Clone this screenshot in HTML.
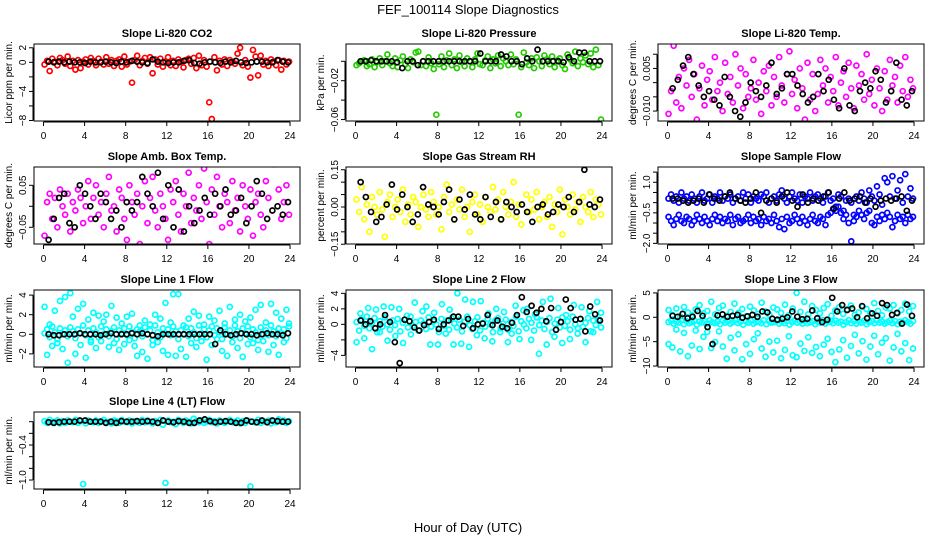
<!DOCTYPE html>
<html><head><meta charset="utf-8"><style>
body{margin:0;background:#fff;}
svg{display:block;font-family:"Liberation Sans",Arial,sans-serif;}
</style></head><body>
<svg id="c" width="936" height="540" viewBox="0 0 936 540">
<text x="468" y="14" font-size="13" text-anchor="middle">FEF_100114  Slope Diagnostics</text>
<text x="468" y="532" font-size="13" text-anchor="middle">Hour of Day (UTC)</text>
</svg>
<script>
// ---- data (colored = all samples, black = summary samples) ----
const co2Col=[-0.3,0.2,-1.2,0.5,0.1,-0.4,0.6,0.3,-0.2,0.8,-0.5,0.2,-1.0,0.3,-0.8,0.1,0.4,-0.3,0.6,0.2,-0.4,0.5,0.1,-0.3,0.7,-0.2,0.3,-0.5,0.2,0.4,-0.6,0.8,-0.3,0.1,-2.8,0.3,0.9,-0.4,0.2,0.6,-0.2,0.7,-1.5,0.4,-0.3,0.5,-0.6,0.1,0.7,-0.4,0.2,-0.5,0.4,0.1,-0.7,0.3,0.5,-0.2,0.6,-0.8,0.9,-0.4,0.3,-0.6,-5.5,-7.8,0.7,-1.1,0.2,-0.3,0.4,-0.5,0.3,0.1,-0.2,1.2,2.0,-0.4,0.3,-0.6,-2.1,1.7,0.8,-1.8,0.9,-0.3,0.2,-0.5,0.4,0.1,-0.4,0.3,-1.0,0.2,-0.3,0.1];
const co2Blk=[0.1,0,0.1,0,0.1,0,0,-0.1,0.1,0,0,0.1,0,-0.1,0.1,0,0.2,0.1,0,-0.1,0.4,0.1,0,-0.1,0,0,0.2,0.3,-0.1,-0.2,0,0.1,0,-0.1,0.1,0,0.2,0,-0.1,0,0.1,0.1,0,0,0.3,0.1,0];
const presCol=[-4,-2,0,1,-5,-3,2,-6,-1,3,-4,0,7,-2,-5,3,-6,1,5,-3,-7,2,-1,9,10,-4,0,-5,4,-2,-8,-55,-3,5,-6,1,8,-4,2,-7,6,-1,-5,3,0,-6,2,8,-3,-4,1,5,-7,2,-2,6,-5,3,0,-4,7,-3,2,-55,-6,9,-1,-4,3,-7,4,0,-5,6,2,-3,5,-6,1,3,-4,-8,7,2,-2,10,-5,3,-1,6,-3,8,-6,12,-4,-60];
const presBlk=[0,0,1,0,0,0,0,-1,-7,0,0,-4,0,0,0,0,0,0,0,0,0,0,0,8,0,0,0,7,5,0,0,-3,3,0,12,0,0,0,0,-1,4,0,9,9,0,0,0];
const tempCol=[-11,-3,13,-7,2,-9,5,-1,8,-5,3,-13,-2,6,-8,1,4,-6,9,-3,0,-10,7,-4,2,-7,10,-1,5,-9,3,-5,-2,8,-6,0,-11,4,-3,6,-8,2,-5,9,-1,-7,3,11,-4,1,-9,5,-2,-13,7,-6,3,-10,-4,8,-1,5,-7,2,-3,9,-8,0,4,-5,7,-2,-9,6,-1,3,-6,10,-4,1,-8,5,-2,-10,4,-6,8,-1,2,-7,6,-3,9,-5,1,-2];
const tempBlk=[-2,1,6,9,3,-1,-5,-3,-6,-8,2,-5,-10,-12,-7,0,-3,-5,-1,7,-4,-2,3,3,-1,-4,-7,-5,3,-3,1,-6,-9,5,-8,-10,-3,0,-2,4,1,-7,-3,7,-6,-8,-3];
const ambCol=[-7,1,3,-3,2,-5,4,0,-2,3,-6,1,-1,4,2,-4,0,6,-3,2,5,-2,1,-5,3,7,-1,0,-6,4,2,-3,-8,5,1,-2,3,-9,0,6,-4,2,7,-1,-5,3,0,-3,-8,4,1,6,-2,-6,3,0,8,-4,2,-1,5,-3,9,1,-9,4,-2,7,0,-5,3,1,-4,6,-1,2,-6,5,0,-3,4,-7,1,3,-2,-5,6,2,-11,10,-11,4,-3,1,5,-2];
const ambBlk=[-8,-3,2,3,-4,-5,5,3,0,-3,3,1,-3,-1,-5,1,-1,1,7,3,0,8,-3,5,-5,4,-6,0,-4,-1,2,-2,3,0,4,-2,-1,2,-4,0,6,3,-3,-1,0,-2,1];
const rhCol=[3,-2,8,-5,1,-10,4,0,-3,6,-1,-12,2,5,-4,0,3,-2,7,-6,1,-3,4,2,-8,0,5,-1,-4,6,2,-3,0,-9,4,9,-2,1,-5,3,-1,7,-4,0,-10,2,5,-3,1,-6,4,0,-2,8,-1,3,-5,6,0,-3,2,10,-4,1,-7,-16,5,-2,3,-1,6,-5,0,2,-4,4,-8,1,-2,7,-11,3,0,-3,5,-1,2,-6,4,0,-2,6,-4,3,1,-3];
const rhBlk=[10,4,-2,-6,-4,1,9,-1,5,0,-6,-3,8,1,0,-3,2,7,-5,3,-1,5,-3,-5,4,-4,2,-5,2,0,-2,1,-2,-6,0,1,-3,-2,1,0,4,-2,2,15,1,0,3];
const sfUpper=[0.2,0.4,0.1,0.3,0.0,0.5,0.2,0.3,0.1,0.4,0.2,0.0,0.3,0.5,0.1,0.2,0.4,0.0,0.3,0.2,0.5,0.1,0.3,0.2,0.4,0.0,0.2,0.3,0.1,0.5,0.2,0.4,0.0,0.3,0.2,0.1,0.4,0.3,0.5,0.0,0.2,0.3,0.1,0.4,0.6,0.2,0.0,0.3,0.5,0.2,0.1,0.4,0.0,0.3,0.2,0.5,0.1,0.3,0.4,0.2,0.0,0.3,0.5,0.1,0.2,-0.2,0.4,0.3,-0.4,0.1,0.2,0.0,-0.6,0.3,0.1,0.5,0.2,0.0,0.6,0.3,0.1,0.8,0.4,-0.1,1.2,1.0,0.3,1.3,0.2,0.6,1.1,0.0,1.4,0.3,0.7,0.2];
const sfLower=[-0.7,-0.9,-1.1,-0.8,-0.6,-0.9,-1.0,-0.7,-0.8,-1.1,-0.9,-0.6,-0.8,-1.0,-0.7,-0.9,-1.1,-0.8,-0.6,-0.9,-0.7,-1.0,-0.8,-0.9,-0.6,-1.1,-0.8,-0.7,-1.0,-0.9,-0.8,-0.6,-1.0,-0.7,-0.9,-0.8,-1.1,-0.7,-0.9,-0.8,-1.0,-0.6,-0.9,-1.2,-0.8,-1.3,-0.7,-1.0,-0.9,-0.6,-0.8,-1.0,-0.7,-0.9,-1.1,-0.8,-0.6,-0.9,-1.0,-0.7,-0.8,-1.1,-0.6,-0.5,-0.3,-0.4,-0.2,-0.5,-0.8,-0.6,-1.0,-1.9,-0.9,-0.7,-0.4,-0.6,-0.8,-0.5,-0.4,-1.0,-1.1,-0.7,-0.9,-0.6,-0.8,-0.5,-0.7,-1.2,-0.9,-0.6,-0.8,-0.7,-1.0,-0.6,-0.8,-0.7];
const sfBlk=[0.2,0.2,0.1,0.0,0.1,0.2,0.0,0.4,0.2,0.1,0.3,0.5,0.2,0.1,0.0,0.2,0.5,-0.5,0.1,0.2,0.0,0.3,0.5,0.1,-0.2,0.4,0.0,0.2,0.1,0.3,0.5,-0.3,0.2,0.5,0.1,0.2,0.3,0.0,0.2,-0.2,0.1,0.2,0.1,0.2,0.3,-0.4,0.1];
const l1Band=[0.1,0.5,-0.3,0.8,0.2,-0.5,0.6,0.0,0.4,-0.2,0.7,0.3,-0.4,0.5,0.1,0.9,-0.1,0.4,-0.6,0.6,0.2,-0.3,0.8,0.0,0.5,-0.2,0.3,0.7,-0.5,0.4,0.1,0.6,-0.1,0.8,0.2,-0.4,0.5,0.3,-0.2,0.7,0.0,0.4,-0.6,0.9,0.2,-0.3,0.6,0.1,0.5,-0.1,0.8,0.3,-0.5,0.4,0.0,0.7,-0.2,0.6,0.2,-0.4,0.9,0.1,0.5,-0.3,0.4,0.8,-0.1,0.6,0.2,-0.5,0.7,0.0,0.4,-0.2,0.9,0.3,-0.4,0.6,0.1,0.8,-0.3,0.5,0.2,-0.6,0.7,0.0,0.4,-0.1,0.9,0.3,-0.2,0.6,0.1,0.5,-0.4,0.8];
const l1Scatter=[2.8,-2.1,1.0,-1.2,2.4,-0.9,3.4,-1.5,3.8,-2.9,4.2,1.8,-2.0,2.6,-1.1,3.1,-2.4,1.5,-0.8,2.2,-1.4,1.9,-0.7,1.3,2.0,-1.3,2.9,-0.9,1.7,-1.6,1.1,-1.0,1.8,-0.6,2.1,-1.2,-2.2,0.9,-1.8,1.4,-2.5,1.0,-1.1,2.0,-0.8,1.6,-1.7,3.2,-2.1,1.2,4.1,-2.2,4.1,-1.5,0.9,-2.3,1.6,-0.9,2.3,-1.3,1.9,-0.7,1.0,-2.6,1.8,-1.1,1.4,-0.5,2.4,-1.7,1.1,-2.2,2.8,-0.8,1.5,-1.4,2.0,-2.3,1.3,-1.0,1.7,-0.9,2.5,-1.6,3.0,-0.7,1.2,-1.8,3.1,-1.1,2.2,-2.1,1.6,-0.8,2.5,1.1];
const l1Blk=[0,-0.1,-0.1,0,0,0,0.1,0,0,0,-0.1,0,0.1,0,0,0,0.1,0,0.1,0,-0.1,-0.2,0,0,0,0,0,0,0,0,0,0,-1.0,0.4,0,-0.1,0,0.1,0,0,-0.1,0,0.1,0,0,-0.1,0.1];
const l2Band=[0.3,-0.8,0.6,-0.2,1.0,-0.5,0.2,0.8,-1.0,0.4,-0.3,0.9,0.0,-0.7,0.5,-0.1,0.7,-0.9,0.2,0.6,-0.4,1.0,-0.2,0.3,-0.8,0.5,0.1,-0.6,0.9,-0.3,0.4,0.0,-1.0,0.7,-0.2,0.5,-0.7,0.8,0.1,-0.4,0.6,-0.9,0.3,1.0,-0.1,-0.6,0.4,0.9,-0.8,0.2,-0.3,0.7,0.0,-1.0,0.5,0.8,-0.5,0.1,0.6,-0.7,0.3,-0.2,1.0,-0.9,0.4,0.0,-0.5,0.7,0.2,-0.8,0.9,-0.1,0.5,-0.6,0.3,0.8,-1.0,0.1,0.6,-0.4,0.9,-0.2,0.4,-0.7,1.0,0.0,-0.5,0.7,-0.3,0.2,0.8,-0.9,0.5,-0.1,0.6,-0.4];
const l2Scatter=[-2.3,1.4,-1.8,2.1,-3.2,1.9,-1.0,2.3,-2.1,2.2,-1.5,2.0,-2.4,1.1,-1.3,2.8,-0.8,1.7,2.3,-2.6,1.5,-2.6,2.6,-1.2,1.9,-2.6,4.0,-2.5,3.2,-2.9,2.9,-1.4,3.0,-1.8,1.4,-2.2,2.0,-1.0,1.6,-2.3,-1.2,2.4,-1.9,1.8,2.0,-2.0,1.3,-3.8,2.9,-2.6,3.3,-1.6,2.1,-2.4,1.2,-1.9,2.5,-1.2,2.2,-2.3,1.7,-1.0,2.9,1.5];
const l2Blk=[0.5,0.0,0.4,-0.5,0.0,1.2,0.3,-2.3,-5.0,0.6,0.4,-0.4,-0.8,-0.1,0.3,0.6,-0.6,0.0,0.5,1.0,1.0,-0.2,0.7,-0.5,0.0,0.1,1.2,-0.1,0.5,-0.3,-0.5,0.2,1.2,3.5,1.6,2.4,1.5,2.0,0.4,2.1,-0.7,0.3,3.2,2.1,0.6,0.7,-0.9,2.3,1.3,0.5];
const l3Upper=[1.5,0.5,1.8,0.2,2.1,1.0,0.4,1.6,2.5,0.8,1.3,3.2,0.6,1.9,2.4,0.3,1.1,2.8,0.9,1.7,0.2,2.2,1.4,0.7,3.0,1.2,0.5,2.0,1.6,0.9,2.6,0.4,1.8,5.0,1.1,3.2,0.6,2.3,1.5,0.8,1.9,2.7,0.3,1.4,2.1,0.7,1.6,2.4,0.5,1.0,2.2,1.7,0.9,2.9,1.3,0.4,2.0,1.8,2.5,0.8,1.5,2.8,1.2,2.3];
const l3Band=[-1.0,-0.7,-1.3,-0.9,-1.1,-0.6,-1.4,-0.8,-1.2,-1.0,-0.7,-1.5,-0.9,-1.1,-0.8,-1.3,-0.6,-1.0,-1.2,-0.9,-1.4,-0.7,-1.1,-0.8,-1.3,-1.0,-0.6,-1.2,-0.9,-1.5,-0.8,-1.1,-0.7,-1.3,-1.0,-0.9,-1.2,-0.6,-1.4,-0.8,-1.1,-1.0,-0.7,-1.3,-0.9,-1.2,-0.8,-1.5,-1.0,-0.6,-1.1,-0.9,-1.3,-0.7,-1.2,-1.0,-0.8,-1.4,-0.9,-1.1,-0.6,-1.3,-1.0,-0.8,-1.2,-0.7,-1.1,-0.9,-1.5,-1.0,-0.6,-1.2,-0.8,-1.3,-0.9,-1.1,-0.7,-1.4,-1.0,-0.8,-1.2,-0.6,-1.1,-0.9,-1.3,-1.0,-0.7,-1.2,-0.8,-1.4,-0.9,-1.1,-0.6,-1.0,-1.3,-0.8];
const l3Lower=[-5.5,-6.2,-2.5,-7.0,-3.2,-8.0,-5.8,-2.7,-6.5,-4.0,-3.0,-6.3,-5.1,-2.9,-6.0,-8.5,-4.2,-6.8,-3.5,-8.6,-5.5,-7.5,-4.5,-3.3,-6.4,-8.1,-5.0,-7.2,-4.8,-8.4,-6.7,-3.9,-7.8,-8.2,-5.4,-6.9,-4.1,-7.3,-6.1,-8.0,-5.6,-4.4,-7.1,-9.2,-6.6,-4.7,-8.3,-5.9,-3.6,-7.4,-4.9,-8.7,-6.0,-3.8,-7.6,-5.2,-4.3,-8.9,-6.2,-3.4,-7.0,-5.3,-8.8,-6.4];
const l3Blk=[0.3,0.1,0.7,-0.2,0.1,1.3,0.3,-2.0,-5.5,0.4,0.6,0.1,0.3,0.5,-0.1,0.2,0.5,0.1,1.2,1.0,-0.3,-0.5,-0.3,0.0,1.2,0.1,-0.4,-0.3,1.4,-0.2,-1.0,-0.5,4.0,1.2,2.5,1.5,1.8,0.0,2.3,-0.2,0.8,0.3,2.9,2.5,0.5,0.9,-1.3,2.6,0.3];
const l4Col=[0.01,-0.02,0.03,-0.01,0.0,0.02,-0.03,0.01,-0.02,0.02,0.0,-0.01,0.03,-0.02,0.01,-1.07,-0.03,0.02,0.0,-0.01,0.02,-0.02,0.01,0.03,-0.01,0.0,-0.03,0.02,0.01,-0.02,0.03,0.0,-0.01,0.02,-0.03,0.01,0.0,-0.02,0.03,-0.01,0.02,0.0,-0.03,0.01,-0.02,0.03,-0.05,-1.05,0.02,-0.01,0.0,-0.04,0.03,0.01,-0.02,0.02,0.0,-0.03,0.05,0.01,-0.01,0.02,-0.02,0.0,0.03,-0.01,0.01,-0.03,0.02,0.0,-0.02,0.01,0.03,-0.01,0.0,0.02,-0.03,0.01,-0.02,0.02,-1.11,0.0,-0.01,0.03,-0.02,0.01,0.0,0.02,-0.03,0.01,-0.01,0.04,0.0,0.02,-0.02,0.01];
const l4Blk=[-0.01,-0.02,-0.01,0.0,0.0,0.0,0.02,0.02,0.0,0.0,0.0,-0.02,0.0,-0.02,0.01,0.0,0.0,0.01,0.0,0.01,0.0,-0.02,0.02,0.0,-0.01,0.01,0.0,-0.02,-0.02,0.02,0.04,0.01,-0.01,0.0,0.01,0.0,-0.02,-0.02,0.02,0.0,-0.01,0.02,-0.01,0.02,0.01,0.0,0.0];
const xTicks=[0,4,8,12,16,20,24];

const panels=[
 {name:"co2",title:"Slope Li-820 CO2",ylab:"Licor ppm per min.",col:"#ff0000",dom:[-8.07,2.52],ticks:[2,0,-2,-4,-6,-8],labels:[[2,"2"],[0,"0"],[-4,"\u22124"],[-8,"\u22128"]],series:[co2Col],blk:co2Blk},
 {name:"pressure",title:"Slope Li-820 Pressure",ylab:"kPa per min.",col:"#22cc00",dom:[-61.5,17.8],ticks:[0,-20,-40,-60],labels:[[-20,"\u22120.02"],[-60,"\u22120.06"]],series:[presCol],blk:presBlk},
 {name:"temp",title:"Slope Li-820 Temp.",ylab:"degrees C per min.",col:"#ff00ff",dom:[-13.5,13.6],ticks:[10,5,0,-5,-10],labels:[[5,"0.005"],[-10,"\u22120.010"]],series:[tempCol],blk:tempBlk},
 {name:"amb-box-temp",title:"Slope Amb. Box Temp.",ylab:"degrees C per min.",col:"#ff00ff",dom:[-8.98,9.36],ticks:[5,0,-5],labels:[[5,"0.05"],[-5,"\u22120.05"]],series:[ambCol],blk:ambBlk},
 {name:"gas-rh",title:"Slope Gas Stream RH",ylab:"percent per min.",col:"#ffff00",dom:[-14.9,16.1],ticks:[15,10,5,0,-5,-10,-15],labels:[[15,"0.15"],[0,"0.00"],[-15,"\u22120.15"]],series:[rhCol],blk:rhBlk},
 {name:"sample-flow",title:"Slope Sample Flow",ylab:"ml/min per min.",col:"#0000ff",dom:[-2.03,1.75],ticks:[1.5,1,0.5,0,-0.5,-1,-1.5,-2],labels:[[1,"1.0"],[-0.5,"\u22120.5"],[-2,"\u22122.0"]],series:[sfUpper,sfLower],blk:sfBlk},
 {name:"line1-flow",title:"Slope Line 1 Flow",ylab:"ml/min per min.",col:"#00ffff",dom:[-3.34,4.52],ticks:[4,2,0,-2],labels:[[4,"4"],[2,"2"],[0,"0"],[-2,"\u22122"]],series:[l1Band,l1Scatter],blk:l1Blk},
 {name:"line2-flow",title:"Slope Line 2 Flow",ylab:"ml/min per min.",col:"#00ffff",dom:[-5.5,4.43],ticks:[4,2,0,-2,-4],labels:[[4,"4"],[2,"2"],[0,"0"],[-4,"\u22124"]],series:[l2Band,l2Scatter],blk:l2Blk},
 {name:"line3-flow",title:"Slope Line 3 Flow",ylab:"ml/min per min.",col:"#00ffff",dom:[-10.2,5.6],ticks:[5,0,-5,-10],labels:[[5,"5"],[0,"0"],[-5,"\u22125"],[-10,"\u221210"]],series:[l3Upper,l3Band,l3Lower],blk:l3Blk},
 {name:"line4-flow",title:"Slope Line 4 (LT) Flow",ylab:"ml/min per min.",col:"#00ffff",dom:[-1.154,0.166],ticks:[0,-0.2,-0.4,-0.6,-0.8,-1.0],labels:[[-0.4,"\u22120.4"],[-1.0,"\u22121.0"]],series:[l4Col],blk:l4Blk}
];

const NS="http://www.w3.org/2000/svg";
const svg=document.getElementById('c');
const colLeft=[34,346,658], rowTop=[44,167,290,412], W=266, H=77;
function mk(tag,attrs,parent){const e=document.createElementNS(NS,tag);for(const k in attrs)e.setAttribute(k,attrs[k]);parent.appendChild(e);return e;}

panels.forEach((p,i)=>{
  const L=colLeft[i%3], T=rowTop[Math.floor(i/3)];
  const xs=h=>L+(h+0.925)/(25.895)*W;
  const ys=v=>T+H-(v-p.dom[0])/(p.dom[1]-p.dom[0])*H;
  const g=mk('g',{},svg);
  
  
  const clip=mk('clipPath',{id:'cl'+i},g);
  mk('rect',{x:L,y:T,width:W,height:H},clip);
  const pts=mk('g',{'clip-path':'url(#cl'+i+')',fill:'none','stroke-width':1.7},g);
  
  
  p.series.forEach(arr=>{
    const n=arr.length;
    arr.forEach((v,k)=>{
      const h=0.1+k*23.8/(n-1);
      const c=mk('circle',{cx:xs(h),cy:ys(v),r:2.5,stroke:p.col},pts);
      
      
    });
  });
  const nb=p.blk.length;
  p.blk.forEach((v,k)=>{
    const h=0.5+k*23.3/(nb-1);
    const c=mk('circle',{cx:xs(h),cy:ys(v),r:2.5,stroke:'#000'},pts);
    
    
  });
  const box=mk('rect',{x:L,y:T,width:W,height:H,fill:'none',stroke:'#000','stroke-width':1},g);
  
  
  const t=mk('text',{x:L+W/2,y:T-7,'font-size':11,'font-weight':'bold','text-anchor':'middle'},g);
  t.textContent=p.title;
  
  
  const xa=mk('g',{stroke:'#000','stroke-width':1},g);
  
  
  mk('line',{x1:xs(xTicks[0]),x2:xs(xTicks[xTicks.length-1]),y1:T+H+1,y2:T+H+1},xa);
  xTicks.forEach(h=>{
    mk('line',{x1:xs(h),x2:xs(h),y1:T+H+1,y2:T+H+5},xa);
    const tl=mk('text',{x:xs(h),y:T+H+18,'font-size':10,'text-anchor':'middle',stroke:'none'},xa);
    tl.textContent=h;
    
    
  });
  const ya=mk('g',{stroke:'#000','stroke-width':1},g);
  
  
  const tv=p.ticks;
  mk('line',{x1:L-1,x2:L-1,y1:ys(Math.max(...tv)),y2:ys(Math.min(...tv))},ya);
  tv.forEach(v=>mk('line',{x1:L-1,x2:L-5,y1:ys(v),y2:ys(v)},ya));
  p.labels.forEach(([v,s])=>{
    const yl=mk('text',{x:0,y:0,'font-size':10,'text-anchor':'middle',stroke:'none',transform:`translate(${L-8},${ys(v)}) rotate(-90)`},ya);
    yl.textContent=s;
    
    
  });
  const yt=mk('text',{x:0,y:0,'font-size':10,'text-anchor':'middle',transform:`translate(${L-22},${T+H/2}) rotate(-90)`},g);
  yt.textContent=p.ylab;
  
  
});
</script>
</body></html>
